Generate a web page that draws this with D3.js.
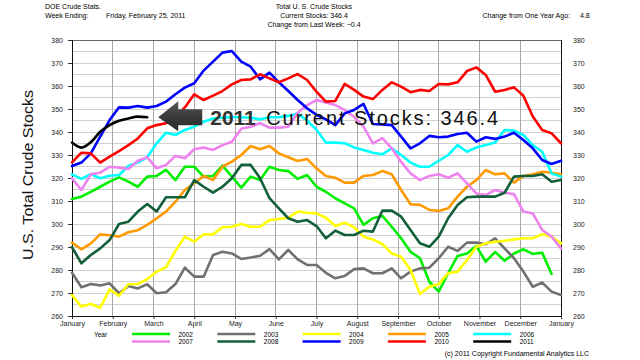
<!DOCTYPE html>
<html><head><meta charset="utf-8">
<script src="https://cdn.jsdelivr.net/npm/d3@7"></script>
<style>
body{margin:0;background:#fff}
svg{display:block;font-family:"Liberation Sans",Arial,Helvetica,sans-serif}
</style>
</head><body>
<svg id="c" width="640" height="360"></svg>
<script>
// ---- data ----
const months = ["January","February","March","April","May","June","July","August","September","October","November","December","January"];
const years = ["2002","2003","2004","2005","2006","2007","2008","2009","2010","2011"];
const colors = ["#00ee00","#707070","#ffff00","#ff9900","#00ffff","#ee82ee","#11603a","#0000ff","#ff0000","#000000"];
const yTicks = [260,270,280,290,300,310,320,330,340,350,360,370,380];

const s2002 = [310.9,311.9,314.0,316.2,318.4,320.3,318.4,316.2,320.6,320.9,323.5,319.1,324.9,324.9,320.6,320.9,325.4,320.6,315.8,320.6,319.1,324.9,323.5,323.0,319.6,321.3,316.2,314.0,311.2,309.0,306.8,299.6,302.5,303.5,298.8,293.8,287.9,285.1,274.9,270.6,278.6,286.1,287.2,290.4,283.6,287.9,284.0,287.2,289.0,287.0,287.5,278.3];
const s2003 = [278.8,272.5,273.9,273.3,274.2,269.9,273.0,272.0,273.8,269.9,270.3,273.9,281.0,277.1,277.1,286.5,287.9,287.2,284.8,285.4,286.2,289.1,284.6,288.7,284.6,282.2,282.2,278.8,276.4,277.4,280.4,280.7,278.6,278.6,280.7,276.4,279.3,280.7,281.0,285.1,290.1,288.3,291.9,291.9,291.2,293.8,289.4,285.1,279.3,272.7,274.5,270.6,269.1];
const s2004 = [269.1,264.1,265.2,263.6,271.6,268.8,273.8,273.9,276.0,279.3,281.2,288.3,294.5,292.3,295.5,295.5,298.6,298.8,300.0,298.8,298.8,301.7,302.2,302.7,305.4,304.9,304.6,302.7,299.1,300.6,298.6,294.5,293.3,291.3,287.2,285.8,280.0,269.6,272.7,273.9,278.6,279.3,284.3,290.1,291.6,292.3,292.7,293.3,293.8,293.8,295.5,294.5,291.6];
const s2005 = [291.9,289.0,291.6,295.5,295.1,294.5,296.4,297.3,299.6,302.5,305.4,309.7,314.8,317.7,320.9,319.1,324.9,327.1,330.0,333.9,332.5,333.9,330.7,329.0,327.4,328.3,324.2,320.9,320.1,318.0,318.0,320.9,321.3,323.0,321.6,314.8,308.6,308.3,306.1,305.7,306.8,311.9,316.2,319.1,323.5,321.6,322.0,318.0,320.9,321.6,322.7,322.3,321.6];
const s2006 = [321.6,319.6,321.7,319.9,321.0,321.3,325.2,326.7,329.0,335.1,339.7,338.7,340.9,342.3,344.5,345.9,346.2,346.4,346.4,346.2,345.5,346.4,346.4,347.0,348.0,345.0,341.0,335.4,335.4,335.1,333.3,332.2,331.0,330.3,332.9,330.0,326.7,324.9,324.9,327.5,330.0,334.3,331.4,333.3,334.3,335.4,340.9,340.6,338.7,334.3,331.4,322.0,320.6];
const s2007 = [319.9,314.8,321.6,322.3,324.9,324.5,323.9,327.5,329.0,324.2,325.7,329.6,328.6,332.5,333.3,332.2,334.3,335.8,341.4,342.3,343.8,341.9,341.9,342.3,348.4,351.7,353.9,352.8,351.7,349.6,346.5,342.3,335.1,337.3,332.9,327.0,322.0,319.1,320.9,321.6,320.1,322.0,317.7,313.3,312.6,314.8,313.6,313.0,305.4,304.6,297.4,294.5,289.4];
const s2008 = [289.9,282.9,286.5,289.4,293.0,300.0,301.0,305.4,308.7,305.4,311.6,311.6,311.6,319.1,316.2,313.6,316.2,319.9,325.7,325.7,319.9,311.2,306.8,302.5,301.0,301.7,299.1,293.8,297.1,295.2,295.2,297.1,296.7,305.8,305.8,303.2,297.4,291.6,290.1,294.5,302.5,308.3,311.6,311.9,311.9,311.9,313.6,320.6,320.9,320.9,321.6,318.4,319.1];
const s2009 = [325.2,326.7,330.7,338.0,345.2,350.7,350.6,351.3,350.6,351.3,353.2,356.4,359.3,361.2,366.7,370.6,374.5,375.2,370.6,368.4,362.9,365.8,361.6,357.8,353.9,350.3,347.5,345.5,343.0,348.1,349.6,352.2,343.5,343.3,343.0,338.0,332.9,335.1,338.3,337.7,338.0,339.1,339.7,335.8,337.7,337.0,338.0,339.7,336.5,332.9,327.8,326.1,327.5];
const s2010 = [326.8,331.0,330.7,326.7,329.3,331.7,334.3,337.2,341.6,343.0,343.8,346.4,350.7,356.4,353.9,355.8,357.8,360.7,362.6,362.9,365.1,363.3,361.6,363.3,365.2,362.6,357.5,353.2,353.5,360.9,358.3,355.4,354.3,358.3,361.6,359.7,357.3,358.3,357.8,360.9,360.7,361.6,366.5,368.1,364.8,357.5,358.3,359.4,355.8,346.7,340.9,339.4,335.1];
const s2011 = [335.4,333.2,335.5,340.1,343.0,344.9,345.9,346.7,346.4];
const series = [s2002,s2003,s2004,s2005,s2006,s2007,s2008,s2009,s2010,s2011];

const headerLeft = ["DOE Crude Stats.","Week Ending:"];
const weekEnding = "Friday, February 25, 2011";
const headerCenter = ["Total U. S. Crude Stocks","Current Stocks: 346.4","Change from Last Week:  \u22120.4"];
const yearAgoLabel = "Change from One Year Ago:";
const yearAgoValue = "4.8";
const currentValue = "346.4";

// ---- layout ----
const svg = d3.select("#c");
const L = 72, R = 561, T = 40, B = 316;
const x = d3.scaleLinear().domain([0,52]).range([L,R]);
const xm = d3.scaleLinear().domain([0,12]).range([L,R]);
const y = d3.scaleLinear().domain([260,380]).range([B,T]);

// gridlines
const g5 = d3.range(265,380,5);
svg.append("g").selectAll("line").data(g5).join("line")
  .attr("x1",L).attr("x2",R).attr("y1",d=>y(d)).attr("y2",d=>y(d))
  .attr("stroke", "#cfcfcf").attr("stroke-width",1).attr("shape-rendering","crispEdges");
svg.append("g").selectAll("line").data(d3.range(1,12)).join("line")
  .attr("x1",d=>xm(d)).attr("x2",d=>xm(d)).attr("y1",T).attr("y2",B)
  .attr("stroke","#a8a8a8").attr("stroke-width",1).attr("shape-rendering","crispEdges");

// axes
const fmt = d3.format("d");
const yl = svg.append("g").attr("transform",`translate(${L},0)`)
  .call(d3.axisLeft(y).tickValues(yTicks).tickSize(4).tickPadding(5).tickFormat(fmt));
const yr = svg.append("g").attr("transform",`translate(${R},0)`)
  .call(d3.axisRight(y).tickValues(yTicks).tickSize(0).tickPadding(12).tickFormat(fmt));
const xa = svg.append("g").attr("transform",`translate(0,${B})`)
  .call(d3.axisBottom(xm).tickValues(d3.range(13)).tickSize(3).tickPadding(2).tickFormat(i=>months[i]));
[yl,yr,xa].forEach(a=>{
  a.select(".domain").remove();
  a.selectAll("text").attr("font-size","7px").attr("fill","#222").attr("font-family","'Liberation Sans',Arial,sans-serif");
  a.selectAll("line").attr("stroke","#333");
});
// frame
svg.append("line").attr("x1",L).attr("x2",R).attr("y1",T+0.5).attr("y2",T+0.5).attr("stroke","#666");
svg.append("line").attr("x1",L).attr("x2",R).attr("y1",B+0.5).attr("y2",B+0.5).attr("stroke","#111");
svg.append("line").attr("x1",L+0.5).attr("x2",L+0.5).attr("y1",T).attr("y2",B+1).attr("stroke","#111");
svg.append("line").attr("x1",R+0.5).attr("x2",R+0.5).attr("y1",T).attr("y2",B+1).attr("stroke","#111");

// lines
const line = d3.line().x((d,i)=>x(i)).y(d=>y(d));
const smooth = d3.line().x((d,i)=>x(i)).y(d=>y(d)).curve(d3.curveMonotoneX);
const lg = svg.append("g").attr("fill","none").attr("stroke-linejoin","round").attr("stroke-linecap","round");
series.forEach((s,k)=>{
  lg.append("path").datum(s)
    .attr("d", k===9 ? smooth : line)
    .attr("stroke", colors[k]).attr("stroke-width", 2.6);
});

// annotation arrow + text
const last = s2011.length-1;
const tipX = x(last)+11, tipY = y(s2011[last]);
const defs = svg.append("defs");
const gr = defs.append("linearGradient").attr("id","ag").attr("x1",0).attr("x2",0).attr("y1",0).attr("y2",1);
gr.append("stop").attr("offset","0").attr("stop-color","#5a5a5a");
gr.append("stop").attr("offset","0.5").attr("stop-color","#3a3a3a");
gr.append("stop").attr("offset","1").attr("stop-color","#2a2a2a");
svg.append("path")
  .attr("d",`M${tipX},${tipY} L${tipX+20},${tipY-16} L${tipX+20},${tipY-8} L${tipX+44},${tipY-8} L${tipX+44},${tipY+8} L${tipX+20},${tipY+8} L${tipX+20},${tipY+14} Z`)
  .attr("fill","url(#ag)");
svg.append("text").attr("x",tipX+52).attr("y",tipY+8)
  .attr("font-size","21px").attr("font-weight","bold").attr("fill","#333").text(years[9]);
svg.append("text").attr("x",tipX+108).attr("y",tipY+8)
  .attr("font-size","20px").attr("fill","#111").attr("textLength",232).attr("lengthAdjust","spacing")
  .text("Current Stocks: "+currentValue);

// y title
svg.append("text").attr("transform","translate(33,175) rotate(-90)")
  .attr("text-anchor","middle").attr("font-size","15px").attr("fill","#111")
  .attr("textLength",170).attr("lengthAdjust","spacingAndGlyphs")
  .text("U.S. Total Crude Stocks");

// header
const hs = "7px";
svg.append("text").attr("x",45).attr("y",9).attr("font-size",hs).text(headerLeft[0]);
svg.append("text").attr("x",45).attr("y",18).attr("font-size",hs).text(headerLeft[1]);
svg.append("text").attr("x",106).attr("y",18).attr("font-size",hs).text(weekEnding);
headerCenter.forEach((t,i)=>svg.append("text").attr("x",314).attr("y",9+i*9)
  .attr("text-anchor","middle").attr("font-size",hs).text(t));
svg.append("text").attr("x",570).attr("y",18).attr("text-anchor","end").attr("font-size",hs).text(yearAgoLabel);
svg.append("text").attr("x",580).attr("y",18).attr("font-size",hs).text(yearAgoValue);

// legend
const leg = svg.append("g");
leg.append("text").attr("x",94).attr("y",336.5).attr("font-size","6.5px").text("Year");
years.forEach((yrName,k)=>{
  const col = k%5, row = Math.floor(k/5);
  const sx = 132 + col*85.3, sy = 334 + row*7.5;
  leg.append("line").attr("x1",sx).attr("x2",sx+38).attr("y1",sy).attr("y2",sy)
    .attr("stroke",colors[k]).attr("stroke-width",2.6);
  leg.append("text").attr("x",sx+46.5).attr("y",sy+2.5).attr("font-size","6.5px").text(yrName);
});
svg.append("text").attr("x",589).attr("y",356).attr("text-anchor","end").attr("font-size","7px")
  .text("(c) 2011 Copyright Fundamental Analytics LLC");
</script>
</body></html>
